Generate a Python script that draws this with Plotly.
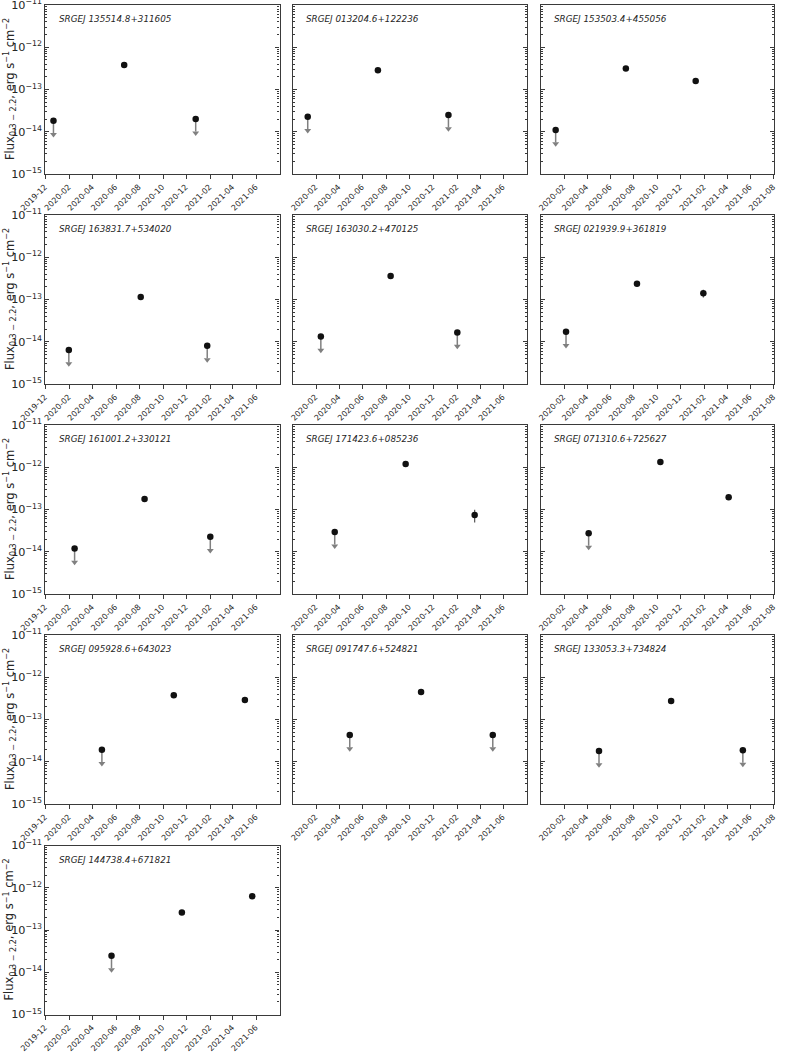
import plotly.graph_objects as go

# ---------------- data ----------------
names = [
    "SRGEJ 135514.8+311605", "SRGEJ 013204.6+122236", "SRGEJ 153503.4+455056",
    "SRGEJ 163831.7+534020", "SRGEJ 163030.2+470125", "SRGEJ 021939.9+361819",
    "SRGEJ 161001.2+330121", "SRGEJ 171423.6+085236", "SRGEJ 071310.6+725627",
    "SRGEJ 095928.6+643023", "SRGEJ 091747.6+524821", "SRGEJ 133053.3+734824",
    "SRGEJ 144738.4+671821",
]
dates = [
    ["2019-12-21", "2020-06-22", "2020-12-25"],
    ["2020-01-10", "2020-07-10", "2021-01-09"],
    ["2020-01-10", "2020-07-11", "2021-01-09"],
    ["2020-01-30", "2020-08-04", "2021-01-24"],
    ["2020-02-13", "2020-08-12", "2021-02-01"],
    ["2020-02-06", "2020-08-09", "2021-01-29"],
    ["2020-02-14", "2020-08-14", "2021-02-01"],
    ["2020-03-20", "2020-09-20", "2021-03-18"],
    ["2020-04-05", "2020-10-09", "2021-04-05"],
    ["2020-04-25", "2020-10-29", "2021-05-02"],
    ["2020-04-28", "2020-10-30", "2021-05-04"],
    ["2020-05-02", "2020-11-06", "2021-05-12"],
    ["2020-05-20", "2020-11-19", "2021-05-21"],
]
flux = [
    [1.83e-14, 3.8e-13, 2.0e-14],
    [2.28e-14, 2.85e-13, 2.5e-14],
    [1.1e-14, 3.16e-13, 1.6e-13],
    [6.4e-15, 1.15e-13, 8.0e-15],
    [1.33e-14, 3.6e-13, 1.66e-14],
    [1.73e-14, 2.35e-13, 1.41e-13],
    [1.2e-14, 1.77e-13, 2.28e-14],
    [2.93e-14, 1.19e-12, 7.4e-14],
    [2.73e-14, 1.33e-12, 1.94e-13],
    [1.93e-14, 3.73e-13, 2.9e-13],
    [4.3e-14, 4.5e-13, 4.3e-14],
    [1.8e-14, 2.74e-13, 1.86e-14],
    [2.45e-14, 2.6e-13, 6.3e-13],
]
upper_limit = [
    [True, False, True],
    [True, False, True],
    [True, False, False],
    [True, False, True],
    [True, False, True],
    [True, False, False],
    [True, False, True],
    [True, False, False],
    [True, False, False],
    [True, False, False],
    [True, False, True],
    [True, False, True],
    [True, False, False],
]
flux_err = [
    [0, 1.5e-14, 0],
    [0, 1.2e-14, 0],
    [0, 1.5e-14, 1.0e-14],
    [0, 0.6e-14, 0],
    [0, 1.5e-14, 0],
    [0, 1.6e-14, 3.0e-14],
    [0, 1.0e-14, 0],
    [0, 5.0e-14, 2.5e-14],
    [0, 6.0e-14, 1.8e-14],
    [0, 2.0e-14, 2.5e-14],
    [0, 4.0e-14, 0],
    [0, 1.2e-14, 0],
    [0, 1.2e-14, 3.0e-14],
]
col_xrange = [
    ["2019-11-29", "2021-07-31"],
    ["2019-12-02", "2021-07-31"],
    ["2019-12-02", "2021-08-02"],
]
month_ticks = ["2019-12-01", "2020-02-01", "2020-04-01", "2020-06-01", "2020-08-01",
               "2020-10-01", "2020-12-01", "2021-02-01", "2021-04-01", "2021-06-01",
               "2021-08-01"]
month_labels = [m[:7] for m in month_ticks]

# ---------------- style / layout constants ----------------
W, H = 789, 1052
COL_PX = [(45.0, 279.5), (292.7, 526.7), (540.7, 774.3)]
ROW_TOP = [5.0, 215.0, 425.0, 635.0, 845.5]
PANEL_H = 169.0
UL_FACTOR = 0.47
SPINE = "#3a3a3a"
TXT = "#262626"
GREY = "#808080"
FONT = "DejaVu Sans"

fig = go.Figure()
annotations = []
layout_axes = {}

for i, name in enumerate(names):
    r, c = divmod(i, 3)
    sfx = "" if i == 0 else str(i + 1)
    xa, ya = "x" + sfx, "y" + sfx
    x0, x1 = COL_PX[c]
    top = ROW_TOP[r]
    bot = top + PANEL_H

    d, f, ul, fe = dates[i], flux[i], upper_limit[i], flux_err[i]

    # upper-limit arrows (line + head)
    lx, ly, hx, hy = [], [], [], []
    for dd, ff, uu in zip(d, f, ul):
        if uu:
            lx += [dd, dd, None]
            ly += [ff, ff * UL_FACTOR * 1.08, None]
            hx.append(dd)
            hy.append(ff * UL_FACTOR)
    if lx:
        fig.add_trace(go.Scatter(x=lx, y=ly, mode="lines", xaxis=xa, yaxis=ya,
                                 line=dict(color=GREY, width=1.5), showlegend=False,
                                 hoverinfo="skip"))
        fig.add_trace(go.Scatter(x=hx, y=hy, mode="markers", xaxis=xa, yaxis=ya,
                                 marker=dict(symbol="triangle-down", size=6, color=GREY,
                                             line=dict(width=0)),
                                 showlegend=False, hoverinfo="skip"))
    # detections with error bars
    dx = [dd for dd, uu in zip(d, ul) if not uu]
    dy = [ff for ff, uu in zip(f, ul) if not uu]
    de = [ee for ee, uu in zip(fe, ul) if not uu]
    fig.add_trace(go.Scatter(x=dx, y=dy, mode="markers", xaxis=xa, yaxis=ya,
                             error_y=dict(type="data", array=de, symmetric=True,
                                          color="#555555", thickness=1.2, width=0),
                             marker=dict(color="#111111", size=6.5),
                             showlegend=False))
    # upper-limit values as black dots
    ux = [dd for dd, uu in zip(d, ul) if uu]
    uy = [ff for ff, uu in zip(f, ul) if uu]
    fig.add_trace(go.Scatter(x=ux, y=uy, mode="markers", xaxis=xa, yaxis=ya,
                             marker=dict(color="#111111", size=6.5),
                             showlegend=False))

    layout_axes["xaxis" + sfx] = dict(
        domain=[x0 / W, x1 / W], anchor=ya, type="date", automargin=False,
        range=col_xrange[c], tickmode="array", tickvals=month_ticks,
        ticktext=month_labels, tickangle=-45, ticklabelshift=-1,
        ticklabeloverflow="allow",
        tickfont=dict(family=FONT, size=8, color=TXT),
        ticks="outside", ticklen=4, tickwidth=1, tickcolor=SPINE,
        showline=True, linecolor=SPINE, linewidth=1.2, mirror=True,
        showgrid=False, zeroline=False,
    )
    layout_axes["yaxis" + sfx] = dict(
        domain=[1 - bot / H, 1 - top / H], anchor=xa, type="log", automargin=False,
        range=[-15, -11], dtick=1, exponentformat="power", showexponent="all",
        tickfont=dict(family=FONT, size=9, color=TXT),
        showticklabels=(c == 0), ticklabeloverflow="allow",
        ticks="inside", ticklen=4, tickwidth=1, tickcolor=SPINE,
        minor=dict(ticks="inside", ticklen=2, tickwidth=0.8, tickcolor=SPINE,
                   dtick="D1", showgrid=False),
        showline=True, linecolor=SPINE, linewidth=1.2, mirror="allticks",
        showgrid=False, zeroline=False,
    )
    annotations.append(dict(
        text=name, xref=xa + " domain", yref=ya + " domain",
        x=0.05, y=1 - 14 / PANEL_H, xanchor="left", yanchor="middle",
        showarrow=False, font=dict(family=FONT, size=8.8, color=TXT, style="italic"),
    ))
    if c == 0:
        annotations.append(dict(
            text="Flux<sub>0.3 − 2.2</sub>, erg&nbsp;s<sup>−1</sup>&nbsp;cm<sup>−2</sup>",
            xref="paper", yref="paper", x=9.5 / W, y=1 - (top + PANEL_H / 2) / H,
            xanchor="center", yanchor="middle", textangle=-90, showarrow=False,
            font=dict(family=FONT, size=11.5, color=TXT),
        ))

fig.update_layout(
    template="none",
    width=W, height=H, margin=dict(l=0, r=0, t=0, b=0, autoexpand=False),
    paper_bgcolor="white", plot_bgcolor="white",
    annotations=annotations, showlegend=False,
    **layout_axes,
)

fig.write_html("out.html", config={"displayModeBar": False},
               post_script="document.body.style.margin='0px';document.body.style.overflow='hidden';")
